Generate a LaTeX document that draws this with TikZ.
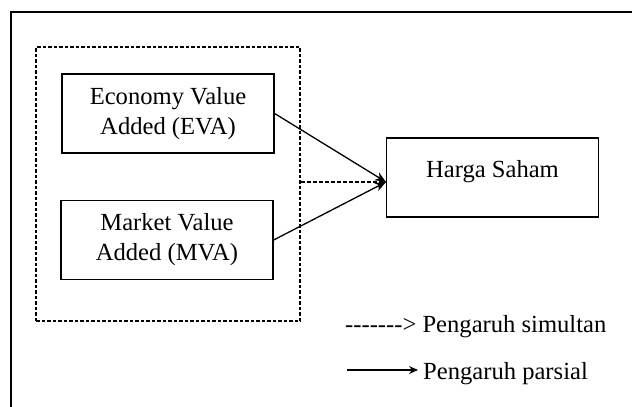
\documentclass[tikz,border=0pt]{standalone}
\usepackage{fontspec}
\setmainfont{Liberation Serif}
\usetikzlibrary{arrows.meta}
\newcommand\dsh{\mbox{-}}

\begin{document}
\begin{tikzpicture}[x=1pt, y=-1pt, >=Stealth,
  var/.style={draw, line width=1.3pt, minimum width=212pt, minimum height=79pt, inner sep=0pt, align=center, font=\fontsize{24.6}{30}\selectfont},
  grp/.style={draw, dash pattern=on 3.5pt off 2pt, line width=1.1pt, minimum width=264pt, minimum height=274pt, inner sep=0pt},
  legend/.style={anchor=base west, inner sep=0pt, inner xsep=5pt, font=\fontsize{24.6}{30}\selectfont}]
\useasboundingbox (0,0) rectangle (632,407);
\clip (0,0) rectangle (632,407);
\draw[line width=2pt] (11,440) -- (11,12) -- (660,12);
\node[grp] (G) at (168,184) {};
\node[var] (eva) at (168,113.5) {Economy Value\\ Added (EVA)};
\node[var] (mva) at (167,240) {Market Value\\ Added (MVA)};
\node[var, text height=12pt, text depth=12pt] (hs) at (492.5,177.5) {Harga Saham};
\coordinate (tip) at (386,182);
\draw[line width=1.1pt, dash pattern=on 4pt off 2pt, -{Straight Barb[length=7pt,width=10pt]}] (G.east |- tip) -- (tip);
\draw[line width=1.3pt, -{Stealth[length=11pt,width=9pt]}] (eva.east) -- (tip);
\draw[line width=1.3pt, -{Stealth[length=11pt,width=9pt]}] (mva.east) -- (tip);
\node[legend, inner xsep=0pt] (sim) at (345,332) {\dsh\dsh\dsh\dsh\dsh\dsh\dsh\mbox{>} Pengaruh simultan};
\coordinate (p0) at (347,370);
\node[legend] (par) at (418,379) {Pengaruh parsial};
\draw[line width=1.3pt, -{Stealth[length=9pt,width=8pt]}] (p0) -- (par.west |- p0);
\end{tikzpicture}
\end{document}
